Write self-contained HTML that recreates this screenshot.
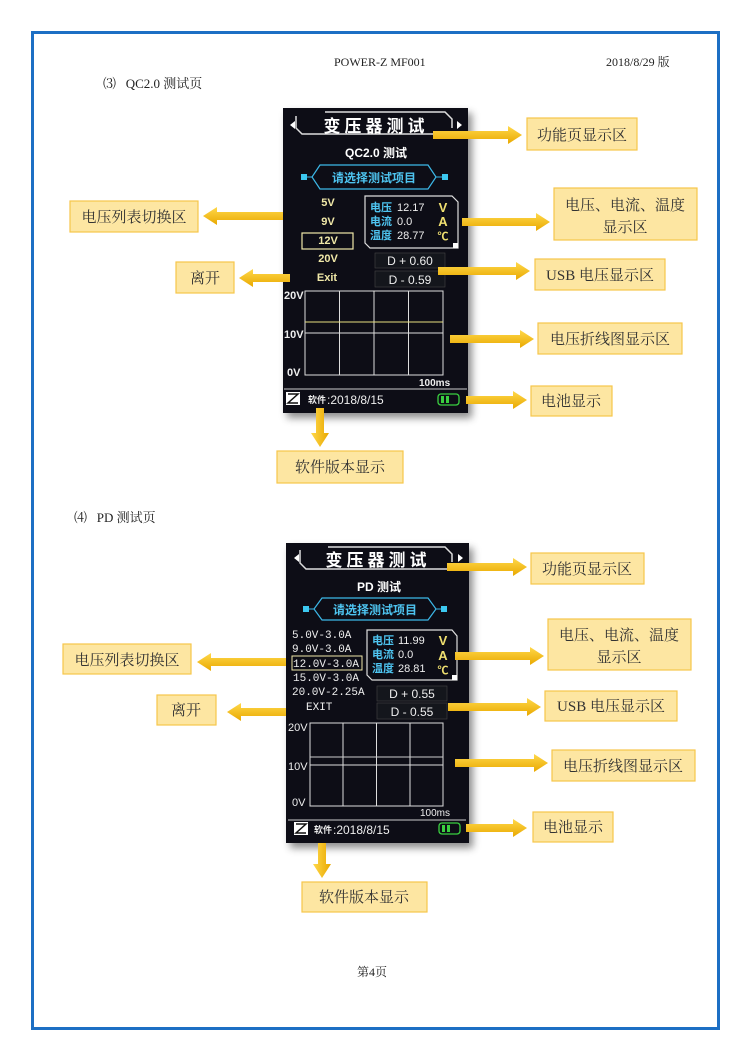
<!DOCTYPE html>
<html><head><meta charset="utf-8"><style>
body{margin:0;width:750px;height:1060px;background:#fff;overflow:hidden}
svg{display:block}
.doc{font-family:"Liberation Serif","Noto Serif CJK SC",serif;fill:#222}
.lbl{font-family:"Liberation Serif","Noto Serif CJK SC",serif;fill:#333;font-size:15px}
.s{font-family:"Liberation Sans","Noto Sans CJK SC",sans-serif}
.m{font-family:"Liberation Mono","Noto Sans CJK SC",monospace}
</style></head><body>
<svg width="750" height="1060" viewBox="0 0 750 1060" xmlns="http://www.w3.org/2000/svg">
<defs>
<linearGradient id="ag" x1="0" y1="0" x2="0" y2="1"><stop offset="0" stop-color="#ffd84a"/><stop offset="1" stop-color="#e9a800"/></linearGradient>
<linearGradient id="agv" x1="0" y1="0" x2="1" y2="0"><stop offset="0" stop-color="#ffd84a"/><stop offset="1" stop-color="#e9a800"/></linearGradient>
<filter id="sh" x="-10%" y="-10%" width="130%" height="130%"><feDropShadow dx="4" dy="5" stdDeviation="4" flood-opacity="0.45"/></filter>
</defs>
<rect x="32.5" y="32.5" width="686" height="996" fill="none" stroke="#1d6fc4" stroke-width="3"/>
<text class="doc" x="334" y="66" font-size="12">POWER-Z MF001</text>
<text class="doc" x="606" y="66" font-size="12">2018/8/29 版</text>
<text class="doc" x="103" y="88" font-size="13">⑶&#160;&#160;&#160;QC2.0 测试页</text>
<text class="doc" x="74" y="522" font-size="13">⑷&#160;&#160;&#160;PD 测试页</text>
<text class="doc" x="357" y="976" font-size="12">第4页</text>

<!-- Screen 1 -->
<g filter="url(#sh)"><rect x="283" y="108" width="185" height="305" fill="#0b0d12"/></g>
<g>
<path d="M296 116 L296 128 L302 134 L455 134" stroke="#ddd" fill="none" stroke-width="1.5"/>
<path d="M325 112 L445 112 L452 119 L452 128" stroke="#ddd" fill="none" stroke-width="1.5"/>
<polygon points="290,125 295,121 295,129" fill="#fff"/><polygon points="462,125 457,121 457,129" fill="#fff"/>
<text class="s" x="376" y="132" font-size="17" font-weight="bold" fill="#fff" text-anchor="middle" letter-spacing="4">变压器测试</text>
<text class="s" x="376" y="157" font-size="12" font-weight="bold" fill="#fff" text-anchor="middle">QC2.0 测试</text>
<path d="M320 165 L428 165 L436 177 L428 189 L320 189 L312 177 Z" fill="none" stroke="#3cb8e8" stroke-width="1.2"/>
<line x1="306" y1="177" x2="312" y2="177" stroke="#3cb8e8"/><line x1="436" y1="177" x2="442" y2="177" stroke="#3cb8e8"/>
<rect x="301" y="174" width="6" height="6" fill="#3cc8f0"/><rect x="442" y="174" width="6" height="6" fill="#3cc8f0"/>
<text class="s" x="374" y="182" font-size="12" font-weight="bold" fill="#4ec4f0" text-anchor="middle">请选择测试项目</text>
<g class="s" font-size="11" font-weight="bold" fill="#f0e8a8" text-anchor="middle">
<text x="328" y="206">5V</text><text x="328" y="225">9V</text><text x="328" y="244">12V</text><text x="328" y="262">20V</text><text x="327" y="281">Exit</text></g>
<rect x="302" y="233" width="51" height="16" fill="none" stroke="#f0e8a8" stroke-width="1.2"/>
<path d="M365 196 L452 196 L458 202 L458 248 L370 248 L365 243 Z" fill="none" stroke="#ddd" stroke-width="1.2"/>
<rect x="453" y="243" width="5" height="5" fill="#fff"/>
<g class="s" font-size="11" font-weight="bold" fill="#4ec4f0"><text x="370" y="211">电压</text><text x="370" y="225">电流</text><text x="370" y="239">温度</text></g>
<g class="s" font-size="11" fill="#eee"><text x="397" y="211">12.17</text><text x="397" y="225">0.0</text><text x="397" y="239">28.77</text></g>
<g class="s" font-size="13" font-weight="bold" fill="#f0e070" text-anchor="middle"><text x="443" y="212">V</text><text x="443" y="226">A</text><text x="443" y="240" font-size="11">℃</text></g>
<rect x="375" y="253" width="70" height="15" fill="#14161c" stroke="#444" stroke-width="0.6"/>
<rect x="375" y="271" width="70" height="16" fill="#14161c" stroke="#444" stroke-width="0.6"/>
<text class="s" x="410" y="265" font-size="12" fill="#eee" text-anchor="middle">D + 0.60</text>
<text class="s" x="410" y="284" font-size="12" fill="#eee" text-anchor="middle">D - 0.59</text>
<rect x="305" y="291" width="138" height="84" fill="none" stroke="#ddd" stroke-width="1"/>
<line x1="339.5" y1="291" x2="339.5" y2="375" stroke="#ddd"/><line x1="374" y1="291" x2="374" y2="375" stroke="#ddd"/><line x1="408.5" y1="291" x2="408.5" y2="375" stroke="#ddd"/>
<line x1="305" y1="333" x2="443" y2="333" stroke="#ddd"/>
<line x1="305" y1="322" x2="443" y2="322" stroke="#e8e080"/>
<g class="s" font-size="11" font-weight="bold" fill="#eee"><text x="284" y="299">20V</text><text x="284" y="338">10V</text><text x="287" y="376">0V</text><text x="419" y="386" font-size="10">100ms</text></g>
<line x1="284" y1="389" x2="467" y2="389" stroke="#ccc"/>
<rect x="286" y="392" width="14" height="13" fill="#fff"/>
<path d="M288 394 L298 394 L288 403 L298 403" stroke="#111" fill="none" stroke-width="1.5"/>
<text class="s" x="308" y="403" font-size="9" font-weight="bold" fill="#eee">软件</text>
<text class="s" x="327" y="404" font-size="12" fill="#eee">:2018/8/15</text>
<rect x="438" y="394" width="21" height="11" rx="3" fill="none" stroke="#3ad040" stroke-width="1.3"/>
<rect x="441" y="396" width="3" height="7" fill="#3ad040"/><rect x="446" y="396" width="3" height="7" fill="#3ad040"/>
</g>

<!-- Screen 2 -->
<g filter="url(#sh)"><rect x="286" y="543" width="183" height="300" fill="#0b0d12"/></g>
<g>
<path d="M300 550 L300 563 L306 569 L456 569" stroke="#ddd" fill="none" stroke-width="1.5"/>
<path d="M328 547 L445 547 L452 554 L452 562" stroke="#ddd" fill="none" stroke-width="1.5"/>
<polygon points="294,558 299,554 299,562" fill="#fff"/><polygon points="463,558 458,554 458,562" fill="#fff"/>
<text class="s" x="378" y="566" font-size="17" font-weight="bold" fill="#fff" text-anchor="middle" letter-spacing="4">变压器测试</text>
<text class="s" x="379" y="591" font-size="12" font-weight="bold" fill="#fff" text-anchor="middle">PD 测试</text>
<path d="M322 598 L428 598 L436 609 L428 620 L322 620 L314 609 Z" fill="none" stroke="#3cb8e8" stroke-width="1.2"/>
<line x1="308" y1="609" x2="314" y2="609" stroke="#3cb8e8"/><line x1="436" y1="609" x2="442" y2="609" stroke="#3cb8e8"/>
<rect x="303" y="606" width="6" height="6" fill="#3cc8f0"/><rect x="441" y="606" width="6" height="6" fill="#3cc8f0"/>
<text class="s" x="375" y="614" font-size="12" font-weight="bold" fill="#4ec4f0" text-anchor="middle">请选择测试项目</text>
<g class="m" font-size="11" fill="#eee"><text x="292" y="638">5.0V-3.0A</text><text x="292" y="652">9.0V-3.0A</text><text x="293" y="667">12.0V-3.0A</text><text x="293" y="681">15.0V-3.0A</text><text x="292" y="695">20.0V-2.25A</text><text x="306" y="710">EXIT</text></g>
<rect x="292" y="656" width="70" height="14" fill="none" stroke="#f0e8a8" stroke-width="1"/>
<path d="M367 630 L452 630 L457 636 L457 680 L372 680 L367 675 Z" fill="none" stroke="#ddd" stroke-width="1.2"/>
<rect x="452" y="675" width="5" height="5" fill="#fff"/>
<g class="s" font-size="11" font-weight="bold" fill="#4ec4f0"><text x="372" y="644">电压</text><text x="372" y="658">电流</text><text x="372" y="672">温度</text></g>
<g class="s" font-size="11" fill="#eee"><text x="398" y="644">11.99</text><text x="398" y="658">0.0</text><text x="398" y="672">28.81</text></g>
<g class="s" font-size="13" font-weight="bold" fill="#f0e070" text-anchor="middle"><text x="443" y="645">V</text><text x="443" y="660">A</text><text x="443" y="674" font-size="11">℃</text></g>
<rect x="377" y="686" width="70" height="15" fill="#14161c" stroke="#444" stroke-width="0.6"/>
<rect x="377" y="703" width="70" height="16" fill="#14161c" stroke="#444" stroke-width="0.6"/>
<text class="s" x="412" y="698" font-size="12" fill="#eee" text-anchor="middle">D + 0.55</text>
<text class="s" x="412" y="716" font-size="12" fill="#eee" text-anchor="middle">D - 0.55</text>
<rect x="310" y="723" width="133" height="83" fill="none" stroke="#ddd" stroke-width="1"/>
<line x1="343" y1="723" x2="343" y2="806" stroke="#ddd"/><line x1="376.5" y1="723" x2="376.5" y2="806" stroke="#ddd"/><line x1="410" y1="723" x2="410" y2="806" stroke="#ddd"/>
<line x1="310" y1="765" x2="443" y2="765" stroke="#ddd"/><line x1="310" y1="757" x2="443" y2="757" stroke="#ccc"/>
<g class="s" font-size="11" fill="#eee"><text x="288" y="731">20V</text><text x="288" y="770">10V</text><text x="292" y="806">0V</text><text x="420" y="816" font-size="10">100ms</text></g>
<line x1="288" y1="820" x2="466" y2="820" stroke="#ccc"/>
<rect x="294" y="822" width="14" height="13" fill="#fff"/>
<path d="M296 824 L306 824 L296 833 L306 833" stroke="#111" fill="none" stroke-width="1.5"/>
<text class="s" x="314" y="833" font-size="9" font-weight="bold" fill="#eee">软件</text>
<text class="s" x="333" y="834" font-size="12" fill="#eee">:2018/8/15</text>
<rect x="439" y="823" width="21" height="11" rx="3" fill="none" stroke="#3ad040" stroke-width="1.3"/>
<rect x="442" y="825" width="3" height="7" fill="#3ad040"/><rect x="447" y="825" width="3" height="7" fill="#3ad040"/>
</g>

<!-- Arrows -->
<g fill="url(#ag)">
<polygon points="433,131 508,131 508,126 522,135 508,144 508,139 433,139"/>
<polygon points="462,218 536,218 536,213 550,222 536,231 536,226 462,226"/>
<polygon points="438,267 516,267 516,262 530,271 516,280 516,275 438,275"/>
<polygon points="450,335 520,335 520,330 534,339 520,348 520,343 450,343"/>
<polygon points="466,396 513,396 513,391 527,400 513,409 513,404 466,404"/>
<polygon points="283,212 217,212 217,207 203,216 217,225 217,220 283,220"/>
<polygon points="290,274 253,274 253,269 239,278 253,287 253,282 290,282"/>
<polygon points="447,563 513,563 513,558 527,567 513,576 513,571 447,571"/>
<polygon points="455,652 530,652 530,647 544,656 530,665 530,660 455,660"/>
<polygon points="448,703 527,703 527,698 541,707 527,716 527,711 448,711"/>
<polygon points="455,759 534,759 534,754 548,763 534,772 534,767 455,767"/>
<polygon points="466,824 513,824 513,819 527,828 513,837 513,832 466,832"/>
<polygon points="286,658 211,658 211,653 197,662 211,671 211,666 286,666"/>
<polygon points="286,708 241,708 241,703 227,712 241,721 241,716 286,716"/>
</g>
<g fill="url(#agv)">
<polygon points="316,408 316,433 311,433 320,447 329,433 324,433 324,408"/>
<polygon points="318,843 318,864 313,864 322,878 331,864 326,864 326,843"/>
</g>

<!-- Labels -->
<g fill="#fde6a2" stroke="#f6c64a" stroke-width="1.2">
<rect x="527" y="118" width="110" height="32"/>
<rect x="554" y="188" width="143" height="52"/>
<rect x="70" y="201" width="128" height="31"/>
<rect x="176" y="262" width="58" height="31"/>
<rect x="535" y="259" width="130" height="31"/>
<rect x="538" y="323" width="144" height="31"/>
<rect x="531" y="386" width="81" height="30"/>
<rect x="277" y="451" width="126" height="32"/>
<rect x="531" y="553" width="113" height="31"/>
<rect x="548" y="619" width="143" height="51"/>
<rect x="63" y="644" width="128" height="30"/>
<rect x="157" y="695" width="59" height="30"/>
<rect x="545" y="691" width="132" height="30"/>
<rect x="552" y="750" width="143" height="31"/>
<rect x="533" y="812" width="80" height="30"/>
<rect x="302" y="882" width="125" height="30"/>
</g>
<g class="lbl" text-anchor="middle">
<text x="582" y="140">功能页显示区</text>
<text x="625" y="210">电压、电流、温度</text><text x="625" y="232">显示区</text>
<text x="134" y="222">电压列表切换区</text>
<text x="205" y="283">离开</text>
<text x="600" y="280">USB 电压显示区</text>
<text x="610" y="344">电压折线图显示区</text>
<text x="571" y="406">电池显示</text>
<text x="340" y="472">软件版本显示</text>
<text x="587" y="574">功能页显示区</text>
<text x="619" y="640">电压、电流、温度</text><text x="619" y="662">显示区</text>
<text x="127" y="665">电压列表切换区</text>
<text x="186" y="715">离开</text>
<text x="611" y="711">USB 电压显示区</text>
<text x="623" y="771">电压折线图显示区</text>
<text x="573" y="832">电池显示</text>
<text x="364" y="902">软件版本显示</text>
</g>
</svg>
</body></html>
